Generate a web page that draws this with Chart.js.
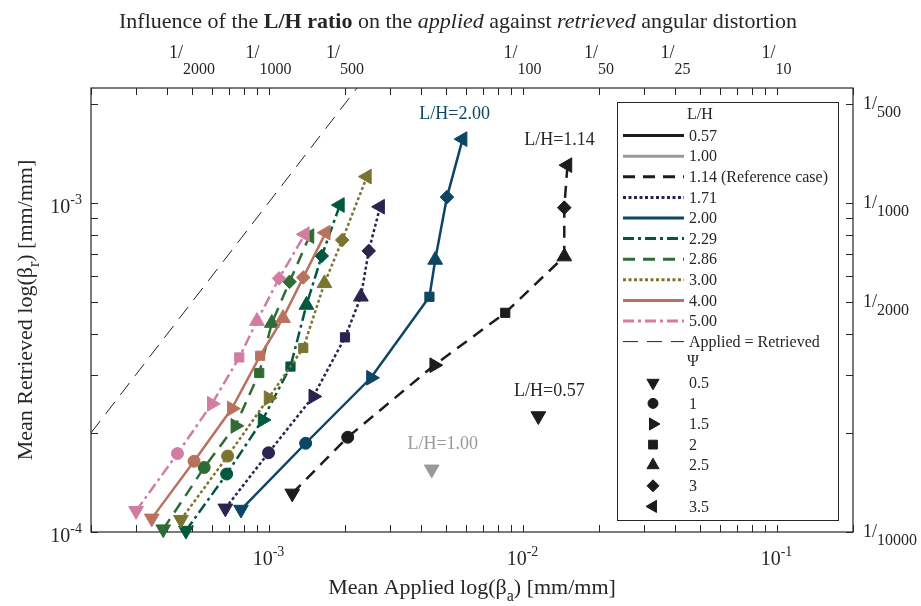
<!DOCTYPE html>
<html>
<head>
<meta charset="utf-8">
<script src="https://cdn.jsdelivr.net/npm/chart.js@4/dist/chart.umd.min.js"></script>
<style>
  html, body { margin: 0; padding: 0; background: #fff; }
  #wrap { width: 921px; height: 606px; }
</style>
</head>
<body>
<div id="wrap"><canvas id="chart" width="921" height="606"></canvas></div>
<script>
// L/H ratios (legend order)
const ratios = ['0.57', '1.00', '1.14', '1.71', '2.00', '2.29', '2.86', '3.00', '4.00', '5.00'];
const ratioLabels = ['0.57', '1.00', '1.14 (Reference case)', '1.71', '2.00', '2.29', '2.86', '3.00', '4.00', '5.00'];
const psiValues = ['0.5', '1', '1.5', '2', '2.5', '3', '3.5'];

// mean applied beta_a, one value per psi
const applied = [
  [0.01154],
  [4.39e-3],
  [1.24e-3, 2.05e-3, 4.49e-3, 8.55e-3, 0.0146, 0.0146, 0.01503],
  [6.76e-4, 1.00e-3, 1.50e-3, 2.00e-3, 2.31e-3, 2.48e-3, 2.75e-3],
  [7.79e-4, 1.40e-3, 2.53e-3, 4.30e-3, 4.53e-3, 5.04e-3, 5.81e-3],
  [4.73e-4, 6.84e-4, 9.47e-4, 1.22e-3, 1.41e-3, 1.62e-3, 1.91e-3],
  [3.85e-4, 5.58e-4, 7.40e-4, 9.19e-4, 1.03e-3, 1.21e-3, 1.45e-3],
  [4.52e-4, 6.90e-4, 1.00e-3, 1.37e-3, 1.66e-3, 1.95e-3, 2.44e-3],
  [3.47e-4, 5.09e-4, 7.17e-4, 9.27e-4, 1.14e-3, 1.37e-3, 1.68e-3],
  [3.01e-4, 4.38e-4, 5.98e-4, 7.67e-4, 9.00e-4, 1.10e-3, 1.39e-3]
];
// mean retrieved beta_r
const retrieved = [
  [2.25e-4],
  [1.55e-4],
  [1.31e-4, 1.94e-4, 3.21e-4, 4.63e-4, 6.86e-4, 9.66e-4, 1.30e-3],
  [1.18e-4, 1.74e-4, 2.58e-4, 3.90e-4, 5.18e-4, 7.14e-4, 9.72e-4],
  [1.17e-4, 1.86e-4, 2.94e-4, 5.18e-4, 6.70e-4, 1.04e-3, 1.56e-3],
  [1.01e-4, 1.50e-4, 2.19e-4, 3.18e-4, 4.89e-4, 6.89e-4, 9.84e-4],
  [1.02e-4, 1.57e-4, 2.10e-4, 3.04e-4, 4.31e-4, 5.75e-4, 7.92e-4],
  [1.09e-4, 1.70e-4, 2.55e-4, 3.62e-4, 5.69e-4, 7.70e-4, 1.20e-3],
  [1.10e-4, 1.64e-4, 2.37e-4, 3.43e-4, 4.46e-4, 5.93e-4, 8.11e-4],
  [1.16e-4, 1.73e-4, 2.45e-4, 3.39e-4, 4.37e-4, 5.89e-4, 8.02e-4]
];

const equalityLine = [2e-4, 2.23e-3];

const xMin = 2e-4, xMax = 0.2;
const yMin = 1e-4, yMax = 2.23e-3;

const bottomTicks = [1e-3, 1e-2, 1e-1];
const bottomTickExp = ['-3', '-2', '-1'];
const leftTicks = [1e-4, 1e-3];
const leftTickExp = ['-4', '-3'];
const topTicks = [1/2000, 1/1000, 1/500, 1/100, 1/50, 1/25, 1/10];
const topTickDen = ['2000', '1000', '500', '100', '50', '25', '10'];
const rightTicks = [1/10000, 1/2000, 1/1000, 1/500];
const rightTickDen = ['10000', '2000', '1000', '500'];

// annotations: [ratio index, point index, text]
const notes = [[4, 6, 'L/H=2.00'], [2, 6, 'L/H=1.14'], [0, 0, 'L/H=0.57'], [1, 0, 'L/H=1.00']];

const colors = ['#1c1c1c', '#999999', '#1c1c1c', '#2a2451', '#0c4664', '#00583f', '#2f6c35', '#7b7431', '#b8735f', '#d27ca2'];
const dashes = [[], [], [12, 8], [3, 2.5], [], [11, 4, 3, 4], [12, 8], [3, 2.5], [], [11, 4, 3, 4]];
const markerStyle = ['triangle', 'circle', 'triangle', 'rect', 'triangle', 'rectRot', 'triangle'];
const markerRot = [180, 0, 90, 0, 0, 0, 270];
const markerRad = [8.5, 6, 8.5, 6.5, 8.5, 6.8, 8.5];
const legendRad = [7, 5, 7, 6.2, 7, 6, 7];

const SERIF = '"Liberation Serif", "Times New Roman", serif';
const AXIS = '#262626';

const datasets = ratios.map((r, i) => ({
  label: r,
  data: applied[i].map((x, j) => ({ x: x, y: retrieved[i][j] })),
  showLine: true,
  borderColor: colors[i],
  backgroundColor: colors[i],
  borderWidth: 2.5,
  borderDash: dashes[i],
  pointStyle: markerStyle,
  pointRotation: markerRot,
  pointRadius: markerRad,
  pointBackgroundColor: colors[i],
  pointBorderColor: colors[i],
  pointBorderWidth: 1,
  clip: false,
  order: 20 - i
}));
datasets.push({
  label: 'Applied = Retrieved',
  data: equalityLine.map(v => ({ x: v, y: v })),
  showLine: true,
  borderColor: '#222',
  borderWidth: 1,
  borderDash: [15, 9],
  pointRadius: 0,
  order: 30
});

function drawParts(ctx, parts, x, y, align) {
  let w = 0;
  parts.forEach(p => { ctx.font = p[1]; w += ctx.measureText(p[0]).width; });
  let cx = align === 'center' ? x - w / 2 : (align === 'right' ? x - w : x);
  ctx.textAlign = 'left';
  ctx.textBaseline = 'alphabetic';
  parts.forEach(p => {
    ctx.font = p[1];
    ctx.fillText(p[0], cx, y + (p[2] || 0));
    cx += ctx.measureText(p[0]).width;
  });
}

function minorTicks(lo, hi) {
  const out = [];
  for (let d = -5; d <= 0; d++) {
    for (let k = 1; k <= 9; k++) {
      const v = k * Math.pow(10, d);
      if (v >= lo * 0.999 && v <= hi * 1.001) out.push(v);
    }
  }
  return out;
}

const framePlugin = {
  id: 'frame',
  beforeDatasetsDraw(chart) {
    const ctx = chart.ctx, a = chart.chartArea;
    const xs = chart.scales.x, ys = chart.scales.y;
    ctx.save();
    ctx.strokeStyle = AXIS;
    ctx.lineWidth = 1.2;
    ctx.strokeRect(a.left, a.top, a.right - a.left, a.bottom - a.top);
    ctx.lineWidth = 1;
    const tl = 7;
    ctx.beginPath();
    minorTicks(xMin, xMax).forEach(v => {
      const px = Math.round(xs.getPixelForValue(v)) + 0.5;
      ctx.moveTo(px, a.bottom); ctx.lineTo(px, a.bottom - tl);
      ctx.moveTo(px, a.top); ctx.lineTo(px, a.top + tl);
    });
    minorTicks(yMin, yMax).forEach(v => {
      const py = Math.round(ys.getPixelForValue(v)) + 0.5;
      ctx.moveTo(a.left, py); ctx.lineTo(a.left + tl, py);
      ctx.moveTo(a.right, py); ctx.lineTo(a.right - tl, py);
    });
    ctx.stroke();

    ctx.fillStyle = AXIS;
    // bottom labels
    bottomTicks.forEach((v, i) => {
      const px = xs.getPixelForValue(v);
      drawParts(ctx, [['10', '20px ' + SERIF], [bottomTickExp[i], '14px ' + SERIF, -9]], px, a.bottom + 33, 'center');
    });
    // left labels
    leftTicks.forEach((v, i) => {
      const py = ys.getPixelForValue(v);
      drawParts(ctx, [['10', '20px ' + SERIF], [leftTickExp[i], '14px ' + SERIF, -9]], a.left - 9, py + 10, 'right');
    });
    // top labels
    topTicks.forEach((v, i) => {
      const px = xs.getPixelForValue(v);
      drawParts(ctx, [['1/', '18px ' + SERIF], [topTickDen[i], '16px ' + SERIF, 16]], px, 58, 'center');
    });
    // right labels
    rightTicks.forEach((v, i) => {
      const py = ys.getPixelForValue(v);
      drawParts(ctx, [['1/', '18px ' + SERIF], [rightTickDen[i], '16px ' + SERIF, 8]], a.right + 10, py + 5, 'left');
    });

    // axis titles
    drawParts(ctx, [['Mean Applied log(\u03b2', '22px ' + SERIF], ['a', '16px ' + SERIF, 7], [') [mm/mm]', '22px ' + SERIF]],
      (a.left + a.right) / 2, 594, 'center');
    ctx.save();
    ctx.translate(32, (a.top + a.bottom) / 2);
    ctx.rotate(-Math.PI / 2);
    drawParts(ctx, [['Mean Retrieved log(\u03b2', '22px ' + SERIF], ['r', '16px ' + SERIF, 7], [') [mm/mm]', '22px ' + SERIF]],
      0, 0, 'center');
    ctx.restore();

    // title
    drawParts(ctx, [
      ['Influence of the ', '22px ' + SERIF],
      ['L/H ratio', 'bold 22px ' + SERIF],
      [' on the ', '22px ' + SERIF],
      ['applied', 'italic 22px ' + SERIF],
      [' against ', '22px ' + SERIF],
      ['retrieved', 'italic 22px ' + SERIF],
      [' angular distortion', '22px ' + SERIF]
    ], 458, 28, 'center');
    ctx.restore();
  },
  afterDatasetsDraw(chart) {
    const ctx = chart.ctx;
    const xs = chart.scales.x, ys = chart.scales.y;
    ctx.save();
    // annotations above the end points
    notes.forEach(n => {
      const i = n[0], j = n[1];
      const px = xs.getPixelForValue(applied[i][j]);
      const py = ys.getPixelForValue(retrieved[i][j]);
      const dx = j === 0 ? 11 : -8;
      ctx.fillStyle = colors[i] === '#1c1c1c' ? '#262626' : colors[i];
      drawParts(ctx, [[n[2], '18px ' + SERIF]], px + dx, py - 20, 'center');
    });

    // legend
    const bx = 617, by = 102, bw = 221, bh = 418, step = 20.6;
    ctx.fillStyle = '#fff';
    ctx.fillRect(bx, by, bw, bh);
    ctx.strokeStyle = AXIS;
    ctx.lineWidth = 1;
    ctx.strokeRect(bx + 0.5, by + 0.5, bw, bh);
    const rowY = k => by + 13 + k * step;
    const font = '16px ' + SERIF;
    ctx.fillStyle = AXIS;
    ctx.textBaseline = 'middle';
    ctx.font = font;
    ctx.fillText('L/H', 687, rowY(0));
    ratioLabels.forEach((lab, i) => {
      const y = rowY(i + 1);
      ctx.save();
      ctx.strokeStyle = colors[i];
      ctx.lineWidth = 3;
      ctx.setLineDash(dashes[i]);
      ctx.beginPath();
      ctx.moveTo(623, y); ctx.lineTo(684, y);
      ctx.stroke();
      ctx.restore();
      ctx.fillStyle = AXIS;
      ctx.font = font;
      ctx.textBaseline = 'middle';
      ctx.fillText(lab, 689, y + 1);
    });
    let y = rowY(11);
    ctx.save();
    ctx.strokeStyle = '#222';
    ctx.lineWidth = 1;
    ctx.setLineDash([15, 9]);
    ctx.beginPath();
    ctx.moveTo(623, y); ctx.lineTo(684, y);
    ctx.stroke();
    ctx.restore();
    ctx.fillStyle = AXIS;
    ctx.font = font;
    ctx.textBaseline = 'middle';
    ctx.fillText('Applied = Retrieved', 689, y + 1);
    ctx.fillText('\u03a8', 687, rowY(12));
    psiValues.forEach((p, j) => {
      const yy = rowY(13 + j);
      ctx.fillStyle = '#1c1c1c';
      ctx.strokeStyle = '#1c1c1c';
      Chart.helpers.drawPoint(ctx, {
        pointStyle: markerStyle[j],
        rotation: markerRot[j],
        radius: legendRad[j],
        borderWidth: 1
      }, 653, yy);
      ctx.fillStyle = AXIS;
      ctx.font = font;
      ctx.textBaseline = 'middle';
      ctx.fillText(p, 689, yy + 1);
    });
    ctx.restore();
  }
};

new Chart(document.getElementById('chart'), {
  type: 'scatter',
  data: { datasets: datasets },
  options: {
    responsive: false,
    animation: false,
    devicePixelRatio: 1,
    layout: { padding: { left: 91, right: 68, top: 88, bottom: 74 } },
    scales: {
      x: { type: 'logarithmic', min: xMin, max: xMax, display: false },
      y: { type: 'logarithmic', min: yMin, max: yMax, display: false }
    },
    plugins: {
      legend: { display: false },
      tooltip: { enabled: false }
    }
  },
  plugins: [framePlugin]
});
</script>
</body>
</html>
